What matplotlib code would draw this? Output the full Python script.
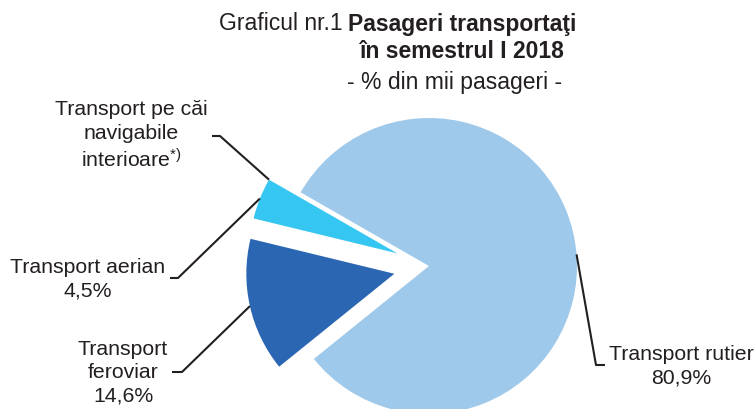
import numpy as np
import matplotlib
matplotlib.use("Agg")
import matplotlib.pyplot as plt

plt.rcParams['font.family'] = ['Liberation Sans', 'DejaVu Sans']
plt.rcParams['mathtext.fontset'] = 'custom'
plt.rcParams['mathtext.rm'] = 'Liberation Sans'
plt.rcParams['mathtext.it'] = 'Liberation Sans'

# date: % din mii pasageri, semestrul I 2018
categorii = ['Transport rutier', 'Transport pe căi navigabile interioare',
             'Transport aerian', 'Transport feroviar']
valori = [80.9, 0.0, 4.5, 14.6]
culori = ['#9FC9EA', '#36C6F2', '#36C6F2', '#2A66B1']

W, H = 756, 410
TXT = '#231F20'
R = 148
# explode in pie e in unitati absolute -> fractiune din raza
explode = [0, 0.23 * R, 0.23 * R, 0.24 * R]

fig = plt.figure(figsize=(W / 100, H / 100), dpi=100)
ax = fig.add_axes([0, 0, 1, 1])

# y in pixeli de sus -> y in sus
def py(y):
    return H - y

wedges, _ = ax.pie(valori, colors=culori, explode=explode, startangle=-141.1,
                   counterclock=True, radius=R, center=(429, py(267)),
                   wedgeprops=dict(linewidth=0))
ax.set_xlim(0, W)
ax.set_ylim(0, H)
ax.set_aspect('equal')
ax.axis('off')


def arc_pt(w, ang):
    cx, cy = w.center
    a = np.deg2rad(ang)
    return cx + w.r * np.cos(a), cy + w.r * np.sin(a)


def mid(w):
    return (w.theta1 + w.theta2) / 2


# ancore pentru liniile de legatura
ancore = [
    arc_pt(wedges[0], mid(wedges[0])),
    arc_pt(wedges[2], wedges[2].theta1),
    arc_pt(wedges[2], mid(wedges[2])),
    arc_pt(wedges[3], mid(wedges[3])),
]
cot = [(596, 366), (220, 137), (178, 279), (182, 373)]
capat = [(605, 366), (212, 137), (170, 279), (172, 373)]

for a, c, e in zip(ancore, cot, capat):
    ax.plot([a[0], c[0], e[0]], [a[1], py(c[1]), py(e[1])],
            color=TXT, lw=1.5, solid_capstyle='butt', clip_on=False)

fs = 15.3
ax.text(681, py(366), 'Transport rutier\n80,9%', ha='center', va='center',
        fontsize=fs, color=TXT, linespacing=1.3)
ax.text(131, py(136), 'Transport pe căi\nnavigabile\ninterioare$^{*)}$',
        ha='center', va='center', fontsize=fs, color=TXT, linespacing=1.3)
ax.text(88, py(279), 'Transport aerian\n4,5%', ha='center', va='center',
        fontsize=fs, color=TXT, linespacing=1.3)
ax.text(123, py(373), 'Transport\nferoviar\n14,6%', ha='center', va='center',
        fontsize=fs, color=TXT, linespacing=1.3)

# titlu
ft = 16.5
ax.text(343, py(24), 'Graficul nr.1', ha='right', va='center',
        fontsize=ft, color=TXT)
ax.text(462, py(38), 'Pasageri transportaţi\nîn semestrul I 2018', ha='center',
        va='center', fontsize=ft, color=TXT, fontweight='bold', linespacing=1.25)
ax.text(455, py(83), '- % din mii pasageri -', ha='center', va='center',
        fontsize=ft, color=TXT)

fig.savefig('out.png', dpi=100)
